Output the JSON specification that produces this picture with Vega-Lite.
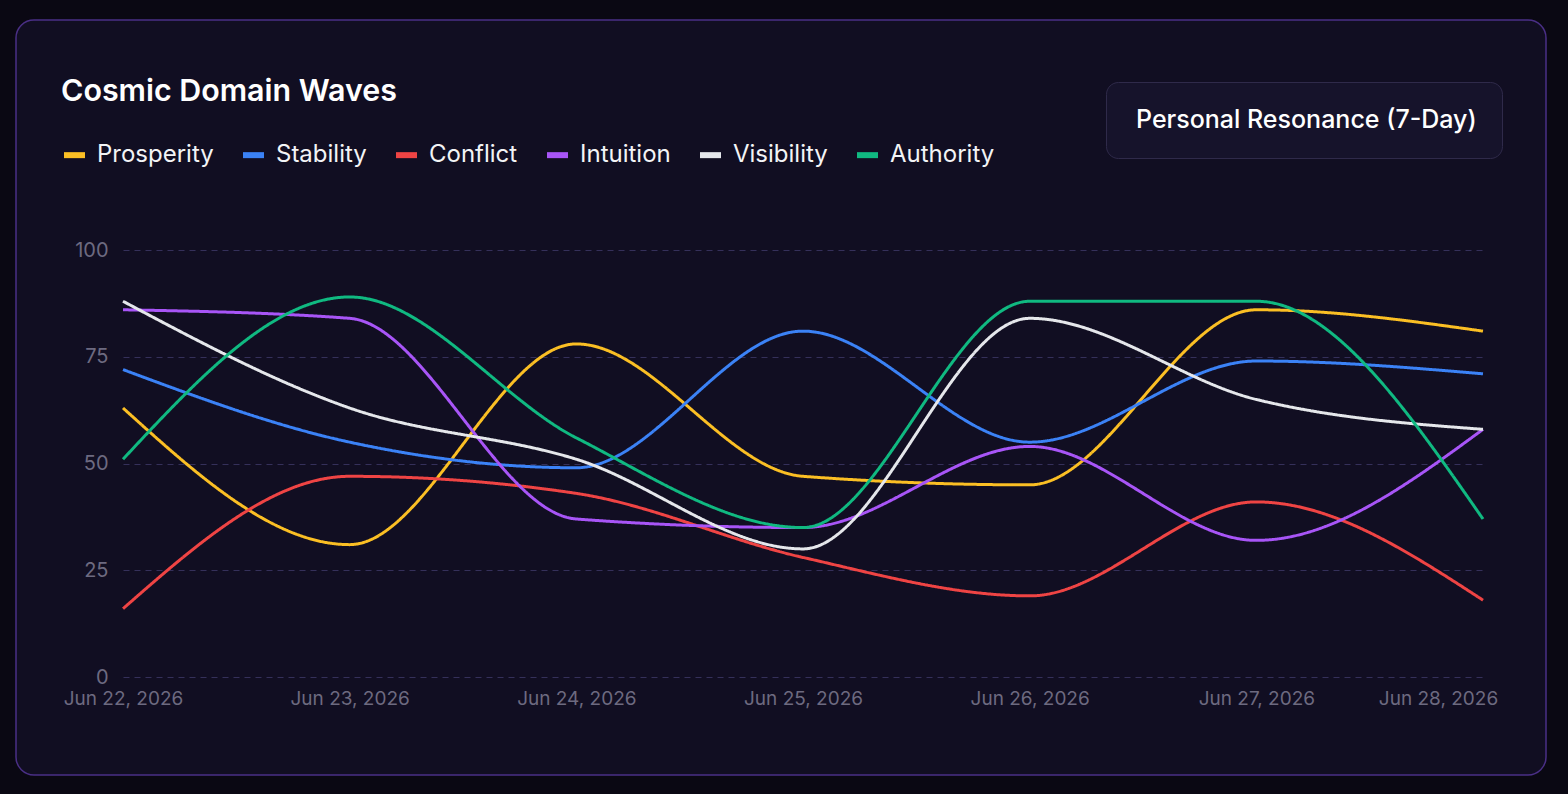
{
  "$schema": "https://vega.github.io/schema/vega-lite/v6.json",
  "width": 1530,
  "height": 755,
  "autosize": {"type": "none"},
  "padding": {"left": 16, "top": 20, "right": 22, "bottom": 19},
  "background": "#0a0813",
  "config": {
    "font": "Inter",
    "view": {"fill": "#110e22", "stroke": "#4a2f86", "strokeWidth": 1.5, "cornerRadius": 18}
  },
  "data": {
    "values": [
      {"date": "2026-06-22T00:00:00", "domain": "Prosperity", "value": 63},
      {"date": "2026-06-23T00:00:00", "domain": "Prosperity", "value": 31},
      {"date": "2026-06-24T00:00:00", "domain": "Prosperity", "value": 78},
      {"date": "2026-06-25T00:00:00", "domain": "Prosperity", "value": 47},
      {"date": "2026-06-26T00:00:00", "domain": "Prosperity", "value": 45},
      {"date": "2026-06-27T00:00:00", "domain": "Prosperity", "value": 86},
      {"date": "2026-06-28T00:00:00", "domain": "Prosperity", "value": 81},
      {"date": "2026-06-22T00:00:00", "domain": "Stability", "value": 72},
      {"date": "2026-06-23T00:00:00", "domain": "Stability", "value": 55},
      {"date": "2026-06-24T00:00:00", "domain": "Stability", "value": 49},
      {"date": "2026-06-25T00:00:00", "domain": "Stability", "value": 81},
      {"date": "2026-06-26T00:00:00", "domain": "Stability", "value": 55},
      {"date": "2026-06-27T00:00:00", "domain": "Stability", "value": 74},
      {"date": "2026-06-28T00:00:00", "domain": "Stability", "value": 71},
      {"date": "2026-06-22T00:00:00", "domain": "Conflict", "value": 16},
      {"date": "2026-06-23T00:00:00", "domain": "Conflict", "value": 47},
      {"date": "2026-06-24T00:00:00", "domain": "Conflict", "value": 43},
      {"date": "2026-06-25T00:00:00", "domain": "Conflict", "value": 28},
      {"date": "2026-06-26T00:00:00", "domain": "Conflict", "value": 19},
      {"date": "2026-06-27T00:00:00", "domain": "Conflict", "value": 41},
      {"date": "2026-06-28T00:00:00", "domain": "Conflict", "value": 18},
      {"date": "2026-06-22T00:00:00", "domain": "Intuition", "value": 86},
      {"date": "2026-06-23T00:00:00", "domain": "Intuition", "value": 84},
      {"date": "2026-06-24T00:00:00", "domain": "Intuition", "value": 37},
      {"date": "2026-06-25T00:00:00", "domain": "Intuition", "value": 35},
      {"date": "2026-06-26T00:00:00", "domain": "Intuition", "value": 54},
      {"date": "2026-06-27T00:00:00", "domain": "Intuition", "value": 32},
      {"date": "2026-06-28T00:00:00", "domain": "Intuition", "value": 58},
      {"date": "2026-06-22T00:00:00", "domain": "Visibility", "value": 88},
      {"date": "2026-06-23T00:00:00", "domain": "Visibility", "value": 63},
      {"date": "2026-06-24T00:00:00", "domain": "Visibility", "value": 51},
      {"date": "2026-06-25T00:00:00", "domain": "Visibility", "value": 30},
      {"date": "2026-06-26T00:00:00", "domain": "Visibility", "value": 84},
      {"date": "2026-06-27T00:00:00", "domain": "Visibility", "value": 65},
      {"date": "2026-06-28T00:00:00", "domain": "Visibility", "value": 58},
      {"date": "2026-06-22T00:00:00", "domain": "Authority", "value": 51},
      {"date": "2026-06-23T00:00:00", "domain": "Authority", "value": 89},
      {"date": "2026-06-24T00:00:00", "domain": "Authority", "value": 56},
      {"date": "2026-06-25T00:00:00", "domain": "Authority", "value": 35},
      {"date": "2026-06-26T00:00:00", "domain": "Authority", "value": 88},
      {"date": "2026-06-27T00:00:00", "domain": "Authority", "value": 88},
      {"date": "2026-06-28T00:00:00", "domain": "Authority", "value": 37}
    ]
  },
  "mark": {"type": "line", "interpolate": "monotone", "strokeWidth": 3},
  "encoding": {
    "x": {
      "field": "date",
      "type": "temporal",
      "scale": {"type": "time", "nice": false, "range": [107, 1467]},
      "axis": {
        "title": null,
        "orient": "bottom",
        "offset": -98,
        "domain": false,
        "ticks": false,
        "tickSize": 0,
        "grid": false,
        "labelFlush": false,
        "format": "%b %d, %Y",
        "values": [
          {"year": 2026, "month": 6, "date": 22},
          {"year": 2026, "month": 6, "date": 23},
          {"year": 2026, "month": 6, "date": 24},
          {"year": 2026, "month": 6, "date": 25},
          {"year": 2026, "month": 6, "date": 26},
          {"year": 2026, "month": 6, "date": 27},
          {"year": 2026, "month": 6, "date": 28}
        ],
        "labelFontSize": 19,
        "labelColor": "#6d6a80",
        "labelPadding": 12,
        "labelOffset": {"condition": {"test": "datum.index === 1", "value": -45}, "value": 0}
      }
    },
    "y": {
      "field": "value",
      "type": "quantitative",
      "scale": {"domain": [0, 100], "nice": false, "zero": true, "range": [657, 230]},
      "axis": {
        "title": null,
        "orient": "left",
        "offset": -104,
        "domain": false,
        "ticks": false,
        "tickSize": 0,
        "values": [0, 25, 50, 75, 100],
        "labelFontSize": 20,
        "labelColor": "#6d6a80",
        "labelPadding": 12,
        "grid": true,
        "gridColor": "#35305a",
        "gridDash": [6, 5],
        "gridWidth": 1
      }
    },
    "color": {
      "field": "domain",
      "type": "nominal",
      "scale": {
        "domain": ["Prosperity", "Stability", "Conflict", "Intuition", "Visibility", "Authority"],
        "range": ["#fbbf24", "#3b82f6", "#ef4444", "#a855f7", "#e5e7eb", "#10b981"]
      },
      "legend": {
        "title": "Cosmic Domain Waves",
        "orient": "none",
        "legendX": 45,
        "legendY": 57,
        "direction": "horizontal",
        "titleOrient": "top",
        "titleAnchor": "start",
        "titleFontSize": 30.4,
        "titleFontWeight": 600,
        "titleColor": "#ffffff",
        "titlePadding": 34,
        "titleLimit": 800,
        "labelFontSize": 24,
        "labelFontWeight": 400,
        "labelColor": "#f3f4f6",
        "labelLimit": 400,
        "labelOffset": 9,
        "symbolType": "stroke",
        "symbolStrokeWidth": 6,
        "symbolSize": 441,
        "columnPadding": 17,
        "padding": 0
      }
    },
    "strokeDash": {
      "datum": "Personal Resonance (7-Day)",
      "scale": {"range": [[1, 0]]},
      "legend": {
        "title": null,
        "orient": "none",
        "legendX": 1090,
        "legendY": 62,
        "fillColor": "#16132b",
        "strokeColor": "#2f2a4a",
        "cornerRadius": 12,
        "padding": 25,
        "symbolSize": 0,
        "symbolStrokeWidth": 0,
        "symbolOpacity": 0,
        "labelOffset": -20,
        "labelFontSize": 25,
        "labelFontWeight": 500,
        "labelColor": "#ffffff",
        "labelLimit": 500
      }
    }
  }
}
